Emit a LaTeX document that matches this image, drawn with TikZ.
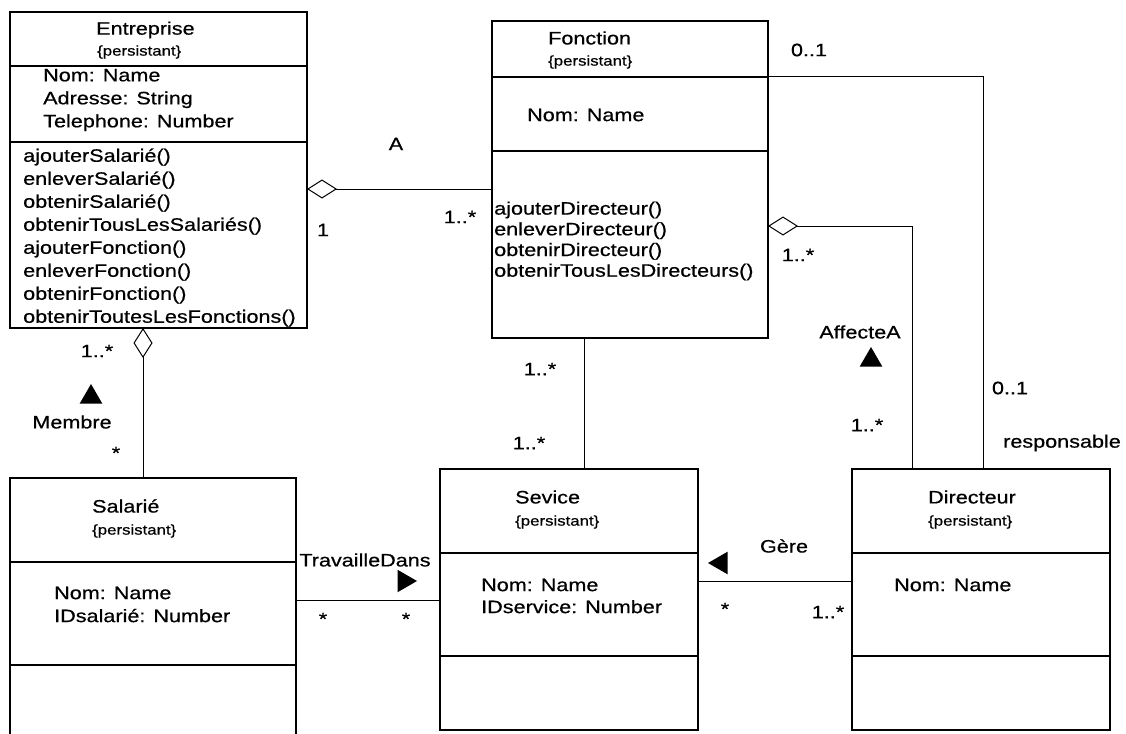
\documentclass[tikz,border=0pt]{standalone}
\usepackage{fontspec}
\setmainfont{Liberation Sans}[FakeStretch=1.2, FakeBold=0.6]
\usetikzlibrary{arrows.meta,shapes.geometric}

\begin{document}
\begin{tikzpicture}[x=1pt, y=-1pt,
  box/.style={draw, line width=1.1pt, anchor=north west, inner sep=0pt, outer sep=0pt},
  txt/.style={anchor=west, inner sep=0pt, align=left, font=\fontsize{18}{23}\selectfont},
  tag/.style={anchor=west, inner sep=0pt, font=\fontsize{14}{16}\selectfont},
  mult/.style={inner sep=0pt, font=\fontsize{18}{22}\selectfont},
  assoc/.style={line width=1pt},
  aggr/.style={assoc, {Diamond[open, length=30pt, width=19pt]}-},
  sens/.style={regular polygon, regular polygon sides=3, fill, inner sep=0pt, minimum size=26pt}]

\useasboundingbox (0,0) rectangle (1126,733);

% Entreprise
\node[box, minimum width=297pt, minimum height=54pt] (enthead) at (10,12) {};
\node[box, minimum width=297pt, minimum height=76pt] (entattr) at (enthead.south west) {};
\node[box, minimum width=297pt, minimum height=186pt] (entops) at (entattr.south west) {};
\node[txt] (entname) at (96,30) {Entreprise};
\node[tag] (entpers) at (97,52) {\{persistant\}};
\node[txt] (entatt) at (43,100) {Nom: Name\\Adresse: String\\Telephone: Number};
\node[txt] (entmeth) at (23,237.5) {ajouterSalarié()\\enleverSalarié()\\obtenirSalarié()\\obtenirTousLesSalariés()\\ajouterFonction()\\enleverFonction()\\obtenirFonction()\\obtenirToutesLesFonctions()};

% Fonction
\node[box, minimum width=276pt, minimum height=56pt] (fcthead) at (492,21) {};
\node[box, minimum width=276pt, minimum height=74pt] (fctattr) at (fcthead.south west) {};
\node[box, minimum width=276pt, minimum height=187pt] (fctops) at (fctattr.south west) {};
\node[txt] (fctname) at (548,38) {Fonction};
\node[tag] (fctpers) at (548,62) {\{persistant\}};
\node[txt] (fctatt) at (527,115) {Nom: Name};
\node[txt, font=\fontsize{18}{20.7}\selectfont] (fctmeth) at (494,241) {ajouterDirecteur()\\enleverDirecteur()\\obtenirDirecteur()\\obtenirTousLesDirecteurs()};

% Salarie
\node[box, minimum width=286pt, minimum height=84pt] (salhead) at (10,478) {};
\node[box, minimum width=286pt, minimum height=103pt] (salattr) at (salhead.south west) {};
\node[box, minimum width=286pt, minimum height=95pt] (salops) at (salattr.south west) {};
\node[txt] (salname) at (92,506) {Salarié};
\node[tag] (salpers) at (92,531) {\{persistant\}};
\node[txt] (salatt) at (54,604.5) {Nom: Name\\IDsalarié: Number};

% Sevice
\node[box, minimum width=258pt, minimum height=84pt] (servhead) at (440,469) {};
\node[box, minimum width=258pt, minimum height=103pt] (servattr) at (servhead.south west) {};
\node[box, minimum width=258pt, minimum height=74pt] (servops) at (servattr.south west) {};
\node[txt] (servname) at (515,497) {Sevice};
\node[tag] (servpers) at (515,522) {\{persistant\}};
\node[txt, font=\fontsize{18}{22}\selectfont] (servatt) at (481,596) {Nom: Name\\IDservice: Number};

% Directeur
\node[box, minimum width=258pt, minimum height=84pt] (dirhead) at (852,469) {};
\node[box, minimum width=258pt, minimum height=103pt] (dirattr) at (dirhead.south west) {};
\node[box, minimum width=258pt, minimum height=74pt] (dirops) at (dirattr.south west) {};
\node[txt] (dirname) at (928,497) {Directeur};
\node[tag] (dirpers) at (928,522) {\{persistant\}};
\node[txt] (diratt) at (894,585) {Nom: Name};

% Edges
\draw[aggr] ([yshift=46pt]entops.east) -- ([yshift=55.5pt]fctops.west);
\draw[aggr] ([xshift=-15.5pt]entops.south) -- ([xshift=-10pt]salhead.north);
\draw[assoc] ([xshift=-46pt]fctops.south) -- ([xshift=15pt]servhead.north);
\draw[assoc] ([yshift=13.5pt]salattr.east) -- ([yshift=4.5pt]servattr.west);
\draw[assoc] ([yshift=23.5pt]servattr.east) -- ([yshift=23.5pt]dirattr.west);
\draw[aggr] ([yshift=18.5pt]fctops.east) -| ([xshift=-69pt]dirhead.north);
\draw[assoc] (fctattr.north east) -| ([xshift=2pt]dirhead.north);

% Roles and multiplicities
\node[mult] (mA) at (396,144) {A};
\node[mult] (mA1) at (323,230) {1};
\node[mult] (mA2) at (460,217) {1..*};
\node[mult] (mResp1) at (809,50) {0..1};
\node[mult] (mAff1) at (798,255) {1..*};
\node[mult] (mAff) at (860,332) {AffecteA};
\node[sens] (sAff) at (871,360) {};
\node[mult] (mResp2) at (1010,388) {0..1};
\node[mult] (mAff2) at (867,425) {1..*};
\node[mult] (mResp) at (1062,443) {responsable};
\node[mult] (mFS1) at (540,369) {1..*};
\node[mult] (mFS2) at (529,443) {1..*};
\node[mult] (mGere) at (784,546) {Gère};
\node[sens, shape border rotate=90] (sGere) at (721,563) {};
\node[mult] (mGere1) at (725,609) {*};
\node[mult] (mGere2) at (828,612) {1..*};
\node[mult] (mMem1) at (97,351) {1..*};
\node[sens] (sMem) at (91,397) {};
\node[mult] (mMem) at (72,422) {Membre};
\node[mult] (mMem2) at (116,453) {*};
\node[mult] (mTrav) at (365,560) {TravailleDans};
\node[sens, shape border rotate=-90] (sTrav) at (404,581) {};
\node[mult] (mTrav1) at (323,619) {*};
\node[mult] (mTrav2) at (406,619) {*};

\end{tikzpicture}
\end{document}
